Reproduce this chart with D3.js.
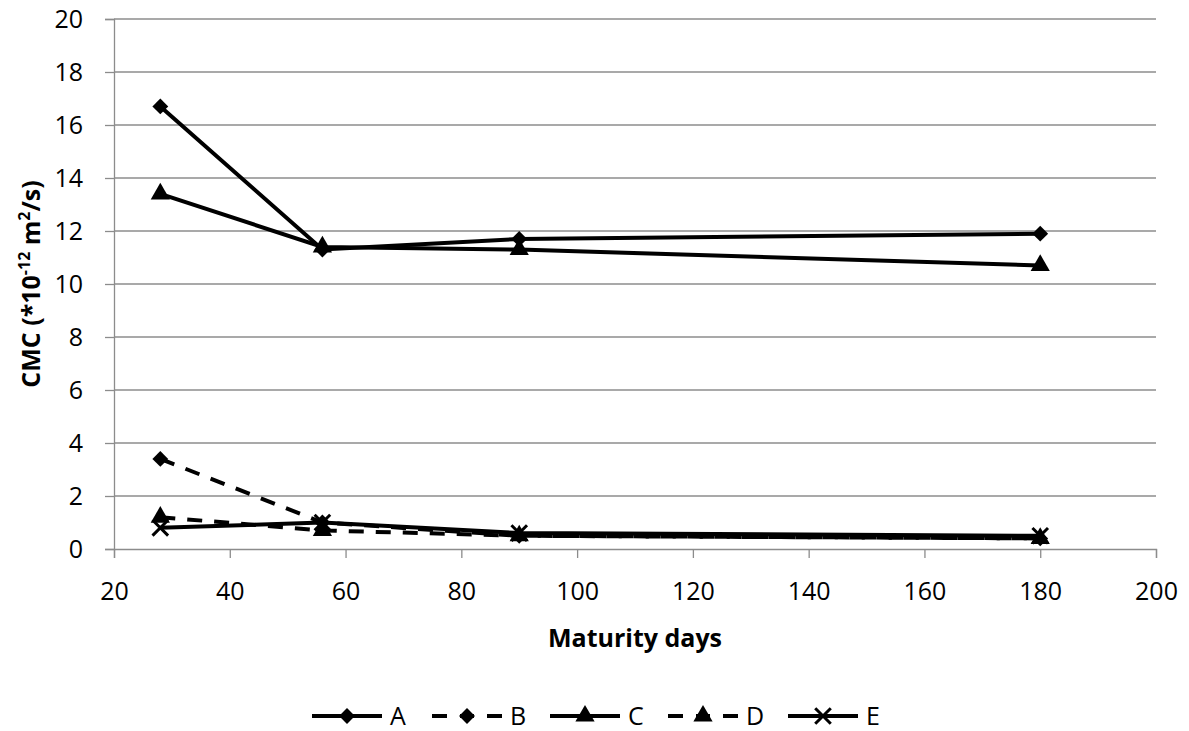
<!DOCTYPE html>
<html>
<head>
<meta charset="utf-8">
<script src="https://cdn.jsdelivr.net/npm/d3@7"></script>
<style>
  body { margin: 0; background: #fff; }
  text { font-family: "Open Sans", Lato, sans-serif; fill: #000; }
</style>
</head>
<body>
<div id="chart"></div>
<script>
/* DATA */
const days = [28, 56, 90, 180];
const seriesNames = ["A", "B", "C", "D", "E"];
const valuesA = [16.7, 11.3, 11.7, 11.9];
const valuesB = [3.4, 1.0, 0.5, 0.4];
const valuesC = [13.4, 11.4, 11.3, 10.7];
const valuesD = [1.2, 0.7, 0.5, 0.4];
const valuesE = [0.8, 1.0, 0.6, 0.5];
const xTicks = [20, 40, 60, 80, 100, 120, 140, 160, 180, 200];
const yTicks = [0, 2, 4, 6, 8, 10, 12, 14, 16, 18, 20];

const width = 1189, height = 731;
const margin = { top: 19, right: 33, bottom: 182, left: 114 };

const series = [
  { name: "A", values: valuesA, dash: null, marker: "diamond" },
  { name: "B", values: valuesB, dash: "15,12", marker: "diamond" },
  { name: "C", values: valuesC, dash: null, marker: "triangle" },
  { name: "D", values: valuesD, dash: "15,12", marker: "triangle" },
  { name: "E", values: valuesE, dash: null, marker: "cross" }
];

const svg = d3.select("#chart").append("svg")
  .attr("width", width).attr("height", height);

const xScale = d3.scaleLinear().domain([20, 200]).range([margin.left, width - margin.right]);
const yScale = d3.scaleLinear().domain([0, 20]).range([height - margin.bottom, margin.top]);

// gridlines
svg.append("g").selectAll("line")
  .data(yTicks.filter(d => d > 0))
  .join("line")
  .attr("x1", xScale(20)).attr("x2", xScale(200))
  .attr("y1", d => yScale(d)).attr("y2", d => yScale(d))
  .attr("stroke", "#8c8c8c").attr("stroke-width", 1.3);

// axes
const xAxis = d3.axisBottom(xScale).tickValues(xTicks).tickSize(9).tickPadding(24);
const yAxis = d3.axisLeft(yScale).tickValues(yTicks).tickSize(9).tickPadding(22);

const gx = svg.append("g")
  .attr("transform", `translate(0,${yScale(0)})`)
  .call(xAxis);
const gy = svg.append("g")
  .attr("transform", `translate(${xScale(20)},0)`)
  .call(yAxis);

[gx, gy].forEach(g => {
  g.select(".domain").attr("stroke", "#8c8c8c").attr("stroke-width", 1.3);
  g.selectAll(".tick line").attr("stroke", "#8c8c8c").attr("stroke-width", 1.3);
  g.selectAll(".tick text").style("font-size", "25px").attr("fill", "#000")
    .style("font-family", "'Open Sans', Lato, sans-serif");
});

// axis titles
svg.append("text")
  .attr("x", (xScale(20) + xScale(200)) / 2)
  .attr("y", 647)
  .attr("text-anchor", "middle")
  .style("font-size", "25px").style("font-weight", "bold")
  .text("Maturity days");

const yTitle = svg.append("text")
  .attr("transform", `translate(40,${(yScale(0) + yScale(20)) / 2}) rotate(-90)`)
  .attr("text-anchor", "middle")
  .style("font-size", "25px").style("font-weight", "bold");
yTitle.append("tspan").text("CMC (*10");
yTitle.append("tspan").attr("dy", -10).style("font-size", "16px").text("-12");
yTitle.append("tspan").attr("dy", 10).text(" m");
yTitle.append("tspan").attr("dy", -10).style("font-size", "16px").text("2");
yTitle.append("tspan").attr("dy", 10).text("/s)");

// markers
function drawMarker(g, type, x, y) {
  if (type === "diamond") {
    g.append("path")
      .attr("d", d3.symbol().type(d3.symbolDiamond2).size(160)())
      .attr("transform", `translate(${x},${y})`)
      .attr("fill", "#000");
  } else if (type === "triangle") {
    g.append("path")
      .attr("d", d3.symbol().type(d3.symbolTriangle).size(160)())
      .attr("transform", `translate(${x},${y})`)
      .attr("fill", "#000");
  } else {
    g.append("path")
      .attr("d", d3.symbol().type(d3.symbolX).size(160)())
      .attr("transform", `translate(${x},${y})`)
      .attr("fill", "none").attr("stroke", "#000").attr("stroke-width", 3);
  }
}

const line = d3.line().x((d, i) => xScale(days[i])).y(d => yScale(d));

series.forEach(s => {
  const g = svg.append("g");
  g.append("path")
    .datum(s.values)
    .attr("d", line)
    .attr("fill", "none")
    .attr("stroke", "#000")
    .attr("stroke-width", 4)
    .attr("stroke-dasharray", s.dash);
  s.values.forEach((v, i) => drawMarker(g, s.marker, xScale(days[i]), yScale(v)));
});

// legend
const legendY = 716;
const legendX = [312, 432, 550, 668, 788];
series.forEach((s, i) => {
  const g = svg.append("g");
  const x0 = legendX[i];
  g.append("line")
    .attr("x1", x0).attr("x2", x0 + 70)
    .attr("y1", legendY).attr("y2", legendY)
    .attr("stroke", "#000").attr("stroke-width", 4)
    .attr("stroke-dasharray", s.dash ? "15,13,14,13,15" : null);
  drawMarker(g, s.marker, x0 + 35, legendY);
  g.append("text")
    .attr("x", x0 + 78).attr("y", legendY + 9)
    .style("font-size", "25px")
    .text(s.name);
});
</script>
</body>
</html>
